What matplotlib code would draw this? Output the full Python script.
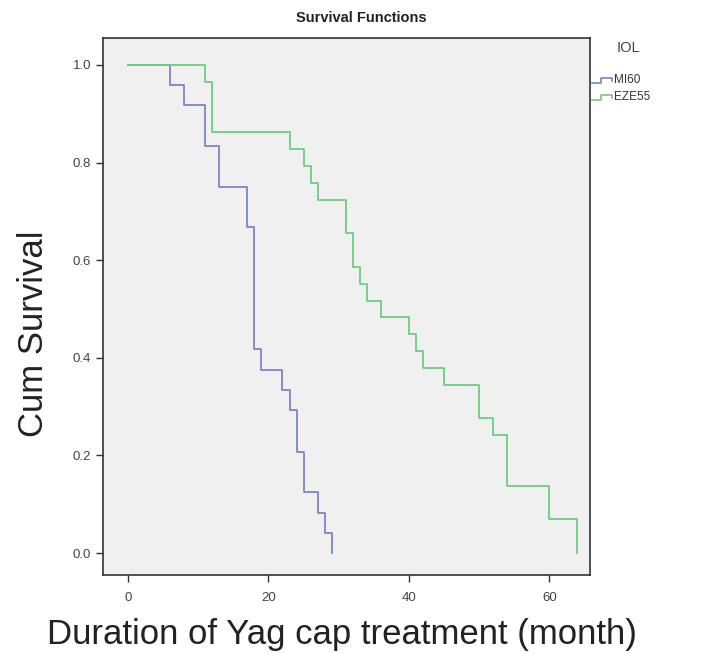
import matplotlib.pyplot as plt
from matplotlib.lines import Line2D

# Kaplan-Meier steps
mi60_time = [0, 6, 8, 11, 13, 17, 18, 19, 22, 23, 24, 25, 27, 28, 29]
mi60_surv = [1.0, 0.958, 0.917, 0.833, 0.750, 0.667, 0.417, 0.375,
             0.333, 0.292, 0.208, 0.125, 0.083, 0.042, 0.0]

eze55_time = [0, 11, 12, 23, 25, 26, 27, 31, 32, 33, 34, 36, 40, 41, 42,
              45, 50, 52, 54, 60, 64]
eze55_surv = [1.0, 0.966, 0.862, 0.828, 0.793, 0.759, 0.724, 0.655, 0.586,
              0.552, 0.517, 0.483, 0.448, 0.414, 0.379, 0.345, 0.276, 0.241,
              0.138, 0.069, 0.0]

groups = ["MI60", "EZE55"]
colors = ["#7d84c6", "#6fcc80"]
x_ticks = [0, 20, 40, 60]
y_ticks = [0.0, 0.2, 0.4, 0.6, 0.8, 1.0]

plt.rcParams['font.family'] = ['Liberation Sans', 'DejaVu Sans']

fig = plt.figure(figsize=(7.22, 6.54), dpi=100)
ax = fig.add_axes([0.1427, 0.1208, 0.6745, 0.821])
ax.set_facecolor("#f0f0f0")

ax.step(mi60_time, mi60_surv, where='post', color=colors[0], lw=1.3)
ax.step(eze55_time, eze55_surv, where='post', color=colors[1], lw=1.3)

ax.set_xlim(-3.56, 65.8)
ax.set_ylim(-0.045, 1.055)
ax.set_xticks(x_ticks)
ax.set_yticks(y_ticks)
ax.set_yticklabels([f"{v:.1f}" for v in y_ticks])
ax.tick_params(labelsize=9.5, labelcolor="#444444", color="#333333",
               length=5, width=1.0)
ax.tick_params(axis='x', pad=7)
for s in ax.spines.values():
    s.set_color("#333333")
    s.set_linewidth(1.2)

ax.set_xlabel("Duration of Yag cap treatment (month)", fontsize=25,
              color="#222222")
ax.set_ylabel("Cum Survival", fontsize=25, color="#222222")
ax.xaxis.set_label_coords(0.49, -0.08)
ax.yaxis.set_label_coords(-0.108, 0.45)
fig.text(0.5, 0.972, "Survival Functions", ha='center', va='center',
         fontsize=10.5, fontweight='bold', color="#222222")

# legend block to the right of the plot
fig.text(0.87, 0.926, "IOL", ha='center', va='center', fontsize=10.5,
         color="#444444")
for i, (name, c) in enumerate(zip(groups, colors)):
    yc = 0.877 - i * 0.026
    fig.add_artist(Line2D([0.820, 0.832, 0.832, 0.848, 0.848],
                          [yc - 0.004, yc - 0.004, yc + 0.004, yc + 0.004, yc - 0.001],
                          color=c, lw=1.2, transform=fig.transFigure))
    fig.text(0.850, yc, name, ha='left', va='center', fontsize=8.5,
             color="#333333")

fig.savefig("out.png", dpi=100)
